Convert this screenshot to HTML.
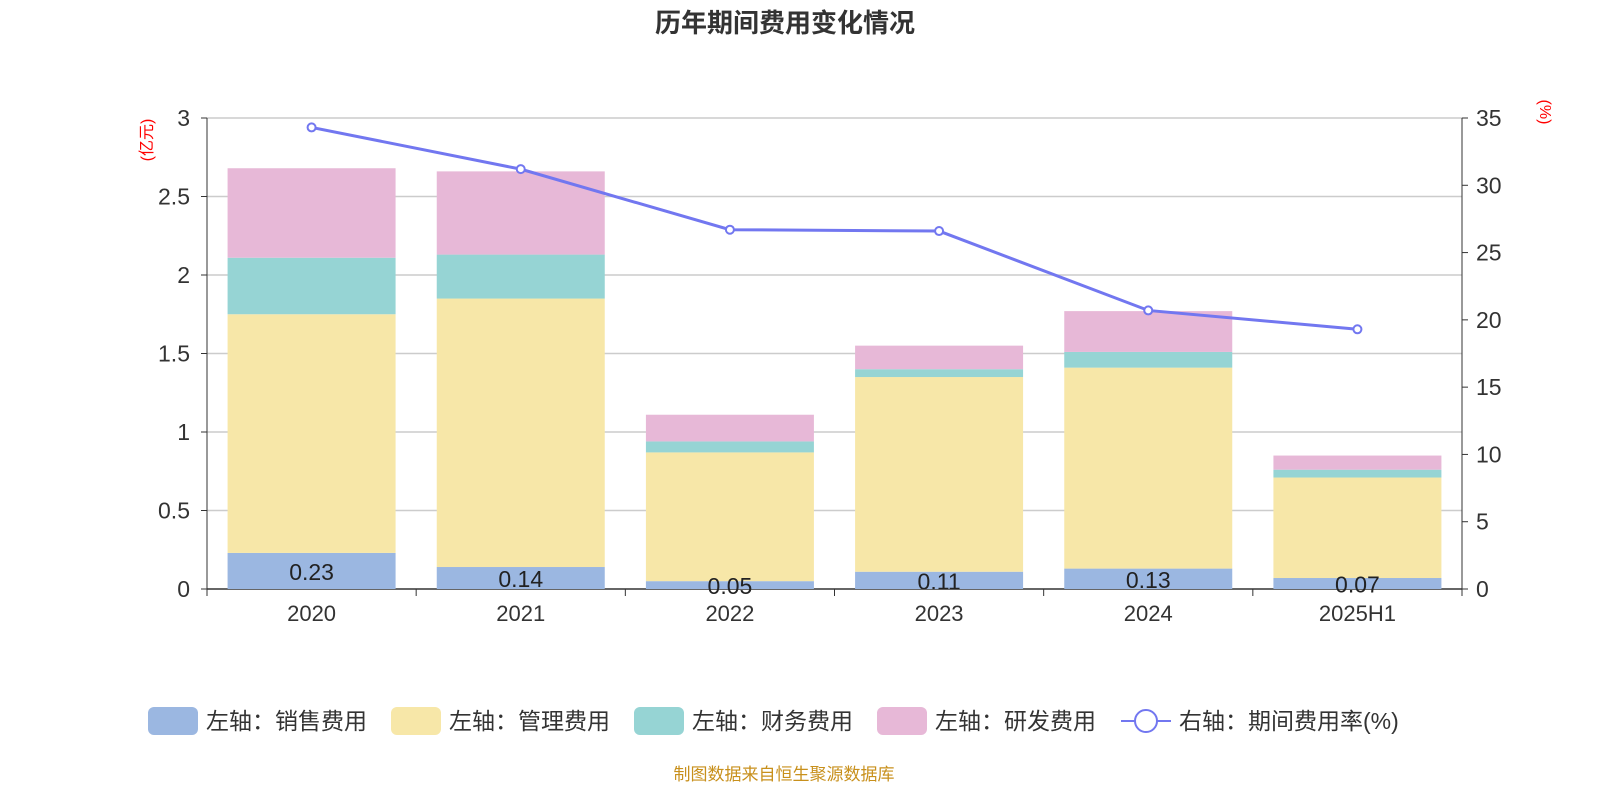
<!DOCTYPE html>
<html><head><meta charset="utf-8"><style>
body{margin:0;background:#fff;width:1600px;height:800px;overflow:hidden;font-family:"Liberation Sans","Noto Sans CJK SC",sans-serif}
</style></head><body>
<svg id="c" width="1600" height="800" xmlns="http://www.w3.org/2000/svg" font-family="Liberation Sans, Noto Sans CJK SC, sans-serif"></svg>
<script>
const categories=["2020","2021","2022","2023","2024","2025H1"];
const sales=[0.23,0.14,0.05,0.11,0.13,0.07];
const mgmt=[1.52,1.71,0.82,1.24,1.28,0.64];
const fin=[0.36,0.28,0.07,0.05,0.10,0.05];
const rd=[0.57,0.53,0.17,0.15,0.26,0.09];
const rate=[34.3,31.2,26.7,26.6,20.7,19.3];
const leftTicks=[0,0.5,1,1.5,2,2.5,3];
const leftTickLabels=["0","0.5","1","1.5","2","2.5","3"];
const rightTicks=[0,5,10,15,20,25,30,35];

const svg=document.getElementById('c');const NS="http://www.w3.org/2000/svg";
function el(t,a,txt){const e=document.createElementNS(NS,t);for(const k in a)e.setAttribute(k,a[k]);if(txt!=null)e.textContent=txt;svg.appendChild(e);return e;}
const X0=207,X1=1462,Y0=589,Y1=118;
const band=(X1-X0)/categories.length;
const xc=i=>X0+band*(i+0.5);
const yl=v=>Y0-(Y0-Y1)*v/3;
const yr=v=>Y0-(Y0-Y1)*v/35;

let t=el('text',{x:785,y:32,'text-anchor':'middle','font-size':26,'font-weight':'bold',fill:'#333'},'历年期间费用变化情况');

leftTicks.forEach((v,i)=>{
 if(v>0){const g=el('line',{x1:X0,x2:X1,y1:yl(v),y2:yl(v),stroke:'#ccc','stroke-width':1.5});}
 const l=el('text',{x:190,y:yl(v)+8,'text-anchor':'end','font-size':23,fill:'#333'},leftTickLabels[i]);
 
 el('line',{x1:X0-6,x2:X0,y1:yl(v),y2:yl(v),stroke:'#333'});
});
rightTicks.forEach(v=>{
 const l=el('text',{x:1476,y:yr(v)+8,'font-size':23,fill:'#333'},String(v));
 
 el('line',{x1:X1,x2:X1+6,y1:yr(v),y2:yr(v),stroke:'#333'});
});
el('line',{x1:X0,x2:X0,y1:Y1,y2:Y0,stroke:'#333'});
el('line',{x1:X1,x2:X1,y1:Y1,y2:Y0,stroke:'#333'});
el('line',{x1:X0,x2:X1,y1:Y0,y2:Y0,stroke:'#333','stroke-width':1.5});
let a=el('text',{x:152,y:140,'font-size':16,fill:'red','text-anchor':'middle',transform:'rotate(-90 152 140)'},'(亿元)');
a=el('text',{x:1540,y:112,'font-size':16,fill:'red','text-anchor':'middle',transform:'rotate(90 1540 112)'},'(%)');
for(let i=0;i<=categories.length;i++)el('line',{x1:X0+band*i,x2:X0+band*i,y1:Y0,y2:Y0+7,stroke:'#333'});
const series=[[sales,'#9bb7e1','sales'],[mgmt,'#f7e7a8','mgmt'],[fin,'#96d4d4','fin'],[rd,'#e7b8d7','rd']];
categories.forEach((c,i)=>{
 const l=el('text',{x:xc(i),y:621,'text-anchor':'middle','font-size':22,fill:'#333'},c);
 
 let base=0;
 series.forEach(([arr,col,nm])=>{
  const r=el('rect',{x:xc(i)-84,width:168,y:yl(base+arr[i]),height:yl(base)-yl(base+arr[i]),fill:col});
  
  base+=arr[i];
 });
 const v=el('text',{x:xc(i),y:(yl(0)+yl(sales[i]))/2+9,'text-anchor':'middle','font-size':23,fill:'#222'},sales[i].toFixed(2));
 
});
const pl=el('polyline',{points:rate.map((v,i)=>xc(i)+','+yr(v)).join(' '),fill:'none',stroke:'#7277f0','stroke-width':3});

rate.forEach((v,i)=>{const p=el('circle',{cx:xc(i),cy:yr(v),r:4,fill:'#fff',stroke:'#7277f0','stroke-width':2});});
const leg=[['左轴：销售费用','#9bb7e1',148],['左轴：管理费用','#f7e7a8',391],['左轴：财务费用','#96d4d4',634],['左轴：研发费用','#e7b8d7',877]];
leg.forEach(([n,col,x])=>{
 const r=el('rect',{x:x,y:707,width:50,height:28,rx:6,fill:col});
 const l=el('text',{x:x+58,y:729,'font-size':23,fill:'#333'},n);
});
el('line',{x1:1121,x2:1171,y1:721,y2:721,stroke:'#7277f0','stroke-width':2});
let lc=el('circle',{cx:1146,cy:721,r:11,fill:'#fff',stroke:'#7277f0','stroke-width':2});
let lt=el('text',{x:1179,y:729,'font-size':23,fill:'#333'},'右轴：期间费用率(%)');
let s=el('text',{x:784,y:780,'text-anchor':'middle','font-size':17,fill:'#c8901c'},'制图数据来自恒生聚源数据库');
</script>
</body></html>
